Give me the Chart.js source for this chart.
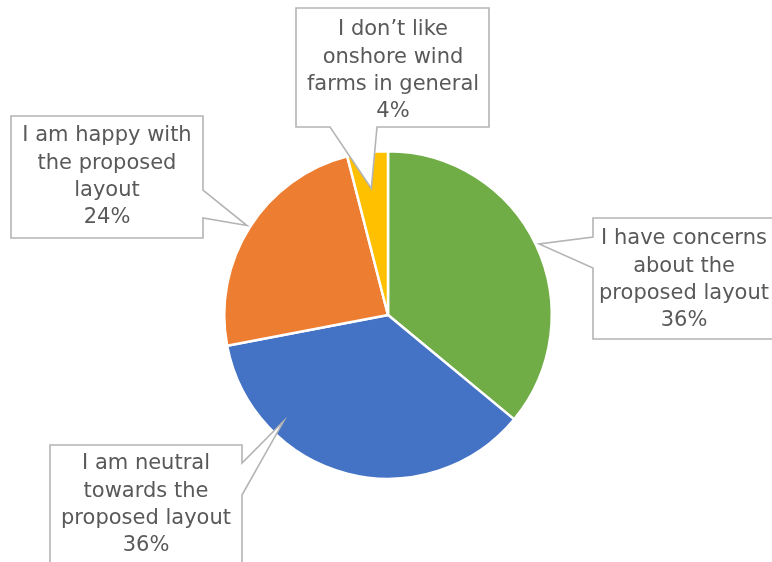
<!DOCTYPE html>
<html>
<head>
<meta charset="utf-8">
<script src="https://cdn.jsdelivr.net/npm/chart.js@4.4.0/dist/chart.umd.min.js"></script>
<style>
  html, body { margin: 0; padding: 0; background: #fff; }
  #wrap { width: 772px; height: 562px; }
</style>
</head>
<body>
<div id="wrap"><canvas id="chart" width="772" height="562"></canvas></div>
<script>
// 数据
const categories = [
  ['I have concerns', 'about the', 'proposed layout'],
  ['I am neutral', 'towards the', 'proposed layout'],
  ['I am happy with', 'the proposed', 'layout'],
  ['I don\u2019t like', 'onshore wind', 'farms in general']
];
const shares = [36, 36, 24, 4];
const colors = ['#70AD47', '#4472C4', '#ED7D31', '#FFC000'];

// 标注框布局 (box, wedge side, wedge base, tip angle / radius fraction)
const callouts = [
  { x: 593, y: 218, w: 184, h: 121, side: 'left',   b1: 237, b2: 268, ang: 64.8,  rf: 1.02, cx: 684, ty: 239 },
  { x: 50,  y: 445, w: 192, h: 130, side: 'right',  b1: 463, b2: 495, ang: 224.5, rf: 0.91, cx: 146, ty: 464 },
  { x: 11,  y: 116, w: 192, h: 122, side: 'right',  b1: 190, b2: 218, ang: 302.4, rf: 1.02, cx: 107, ty: 136 },
  { x: 296, y: 8,   w: 193, h: 119, side: 'bottom', b1: 330, b2: 377, ang: 352.5, rf: 0.78, cx: 393, ty: 30 }
];

const calloutPlugin = {
  id: 'callouts',
  afterDraw(chart) {
    const ctx = chart.ctx;
    const arcs = chart.getDatasetMeta(0).data;
    ctx.save();
    ctx.font = '21px "DejaVu Sans", Verdana, sans-serif';
    callouts.forEach((c, i) => {
      const arc = arcs[i];
      const a = (c.ang - 90) * Math.PI / 180;
      const tx = arc.x + Math.cos(a) * arc.outerRadius * c.rf;
      const ty = arc.y + Math.sin(a) * arc.outerRadius * c.rf;
      const x0 = c.x, y0 = c.y, x1 = c.x + c.w, y1 = c.y + c.h;
      ctx.beginPath();
      ctx.moveTo(x0, y0);
      ctx.lineTo(x1, y0);
      if (c.side === 'right') { ctx.lineTo(x1, c.b1); ctx.lineTo(tx, ty); ctx.lineTo(x1, c.b2); }
      ctx.lineTo(x1, y1);
      if (c.side === 'bottom') { ctx.lineTo(c.b2, y1); ctx.lineTo(tx, ty); ctx.lineTo(c.b1, y1); }
      ctx.lineTo(x0, y1);
      if (c.side === 'left') { ctx.lineTo(x0, c.b2); ctx.lineTo(tx, ty); ctx.lineTo(x0, c.b1); }
      ctx.closePath();
      ctx.fillStyle = '#ffffff';
      ctx.fill();
      ctx.strokeStyle = '#B4B4B4';
      ctx.lineWidth = 1.6;
      ctx.stroke();

      ctx.fillStyle = '#595959';
      ctx.textAlign = 'center';
      ctx.textBaseline = 'middle';
      const lines = chart.data.labels[i].concat([shares[i] + '%']);
      lines.forEach((t, k) => ctx.fillText(t, c.cx, c.ty + k * 27.3));
    });
    ctx.restore();
  }
};

const ctx = document.getElementById('chart').getContext('2d');
new Chart(ctx, {
  type: 'pie',
  data: {
    labels: categories,
    datasets: [{
      data: shares,
      backgroundColor: colors,
      borderColor: '#ffffff',
      borderWidth: 2.5
    }]
  },
  options: {
    responsive: false,
    animation: false,
    layout: { padding: { top: 150, bottom: 82, left: 223, right: 219 } },
    plugins: {
      legend: { display: false },
      tooltip: { enabled: false }
    }
  },
  plugins: [calloutPlugin]
});
</script>
</body>
</html>
